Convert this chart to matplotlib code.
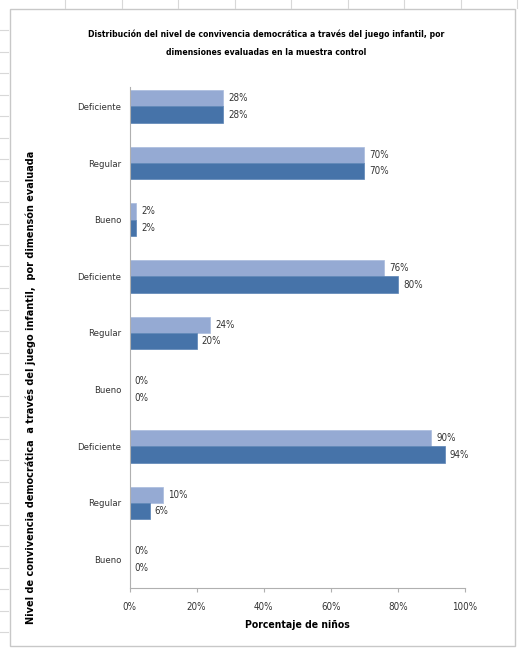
import numpy as np
import matplotlib.pyplot as plt
from matplotlib.patches import Rectangle
from matplotlib.lines import Line2D

plt.rcParams['font.family'] = ['DejaVu Sans']
plt.rcParams['font.stretch'] = 'condensed'

categories = ['Deficiente', 'Regular', 'Bueno',
              'Deficiente', 'Regular', 'Bueno',
              'Deficiente', 'Regular', 'Bueno']
serie_clara = [28, 70, 2, 76, 24, 0, 90, 10, 0]
serie_oscura = [28, 70, 2, 80, 20, 0, 94, 6, 0]

titulo = ('Distribución del nivel de convivencia democrática a través del juego infantil, por\n'
          'dimensiones evaluadas en la muestra control')
ylabel = 'Nivel de convivencia democrática  a través del juego infantil,  por dimensón evaluada'
xlabel = 'Porcentaje de niños'

W, H = 521, 650
fig = plt.figure(figsize=(W / 100, H / 100), dpi=100)

# borde del gráfico y líneas de la hoja de cálculo
fig.patches.append(Rectangle((10 / W, 4 / H), 505 / W, 637 / H, transform=fig.transFigure,
                             fill=False, edgecolor='#c8c8c8', linewidth=1))
for yy in np.arange(30, 650, 21.5):
    fig.lines.append(Line2D([0, 8 / W], [1 - yy / H, 1 - yy / H], transform=fig.transFigure,
                            color='#d8d8d8', linewidth=0.8))
for xx in np.arange(65, 521, 56.5):
    fig.lines.append(Line2D([xx / W, xx / W], [1, 1 - 8 / H], transform=fig.transFigure,
                            color='#d8d8d8', linewidth=0.8))

ax = fig.add_axes([129.5 / W, 1 - 588 / H, 335.5 / W, 510 / H])

n = len(categories)
y = np.arange(n)
h = 0.29
ax.barh(y - h / 2, serie_clara, height=h, color='#95aad3', edgecolor='#a9bbdd', linewidth=0.5)
ax.barh(y + h / 2, serie_oscura, height=h, color='#4673a9', edgecolor='#5b84b5', linewidth=0.5)

for i in range(n):
    ax.text(serie_clara[i] + 1.5, y[i] - h / 2, f'{serie_clara[i]}%', va='center', fontsize=7,
            color='#333333')
    ax.text(serie_oscura[i] + 1.5, y[i] + h / 2, f'{serie_oscura[i]}%', va='center', fontsize=7,
            color='#333333')

ax.set_ylim(n - 0.5, -0.5)
ax.set_yticks(y)
ax.set_yticklabels(categories, fontsize=6.8, color='#333333')
ax.tick_params(axis='y', length=0, pad=6)
ax.set_xlim(0, 100)
ax.set_xticks(range(0, 101, 20))
ax.set_xticklabels([f'{v}%' for v in range(0, 101, 20)], fontsize=7, color='#333333')
ax.tick_params(axis='x', length=3, color='#b0b0b0', pad=7)
for s in ['top', 'right']:
    ax.spines[s].set_visible(False)
for s in ['left', 'bottom']:
    ax.spines[s].set_color('#b0b0b0')
ax.spines['left'].set_bounds(n - 0.5, -0.35)

ax.set_xlabel(xlabel, fontsize=7.5, fontweight='bold', labelpad=6)

fig.text(266 / W, 1 - 43 / H, titulo, ha='center', va='center', fontsize=6.2,
         fontweight='bold', linespacing=2.35)
fig.text(31 / W, 1 - 387 / H, ylabel, rotation=90, ha='center', va='center', fontsize=7,
         fontweight='bold', fontstretch='normal')

fig.savefig('out.png', dpi=100)
